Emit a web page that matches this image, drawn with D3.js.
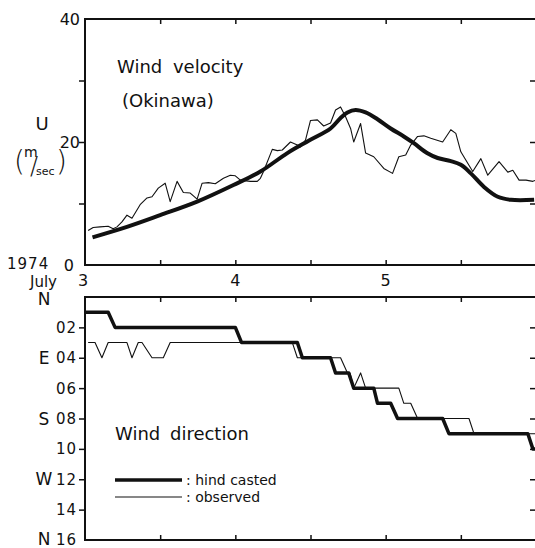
<!DOCTYPE html>
<html>
<head>
<meta charset="utf-8">
<script src="https://cdn.jsdelivr.net/npm/d3@7"></script>
<style>
  html, body { margin: 0; padding: 0; background: #fff; }
  svg { display: block; }
  text { font-family: "DejaVu Sans", sans-serif; fill: #111; }
</style>
</head>
<body>
<div id="chart"></div>
<script>
// ---- Data (hours after July 3, 00:00, 1974) ----
const dayTicks = [0, 24, 48];
const dayLabels = ["3", "4", "5"];
const halfDayTicks = [12, 24, 36, 48, 60];

const speedTicks = [0, 10, 20, 30, 40];
const speedLabels = ["0", "", "20", "", "40"];

// Wind velocity (m/sec) - hindcasted
const hindHours = [1.2, 6.7, 12, 17.9, 23.7, 28, 32.3, 35.7, 39.2, 40.8, 41.9, 43.2, 44.8, 46.7, 48.8, 50.9, 52.5, 54.6, 56.3, 58.4, 60, 61.6, 63.7, 65.9, 68, 71.7];
const hindSpeed = [4.5, 6.2, 8.1, 10.3, 13.0, 15.2, 18.2, 20.2, 22.2, 23.9, 24.8, 25.2, 24.8, 23.7, 22.2, 20.9, 19.8, 18.2, 17.4, 16.9, 16.3, 14.9, 12.7, 11.1, 10.6, 10.6];

// Wind velocity (m/sec) - observed
const obsHours = [0.5, 1.3, 2.4, 3.7, 4.5, 5.1, 5.9, 6.7, 7.5, 8.8, 9.9, 10.7, 11.7, 12.8, 13.6, 14.7, 15.7, 16.8, 17.9, 18.7, 19.7, 20.8, 22.1, 23.2, 24.0, 24.8, 26.4, 27.5, 28.0, 28.5, 29.9, 30.7, 31.5, 32.8, 33.9, 34.4, 35.2, 36.0, 37.1, 38.1, 39.2, 40.0, 40.8, 41.6, 42.4, 42.9, 44.0, 44.8, 46.1, 47.7, 49.1, 50.1, 51.2, 52.0, 53.1, 54.1, 55.2, 57.1, 58.4, 59.2, 60.0, 61.9, 63.2, 64.3, 66.1, 67.5, 68.3, 69.3, 70.4, 71.5, 72.0];
const obsSpeed = [5.6, 6.1, 6.2, 6.3, 5.9, 6.2, 7.0, 8.1, 7.6, 9.8, 10.9, 11.1, 12.5, 13.3, 10.3, 13.6, 11.8, 11.7, 10.7, 13.3, 13.4, 13.2, 14.1, 14.6, 14.5, 13.8, 13.6, 13.6, 14.1, 15.2, 18.8, 18.6, 18.7, 20.0, 19.5, 19.2, 20.3, 23.5, 23.6, 22.6, 23.1, 25.2, 25.7, 24.1, 22.2, 20.0, 23.0, 18.2, 17.6, 15.7, 14.9, 17.6, 17.9, 19.5, 20.9, 21.0, 20.6, 20.0, 22.0, 21.4, 18.4, 15.2, 17.3, 14.6, 16.8, 15.1, 15.4, 13.8, 13.8, 13.6, 13.8];

// Wind direction (16-point compass units) - hindcasted
const hindDirHours = [0, 3.7, 4.8, 24, 25, 33.9, 34.7, 39.2, 40, 42.1, 42.9, 46.1, 46.7, 48.8, 49.9, 57.1, 58.1, 70.7, 71.5, 72];
const hindDir = [1, 1, 2, 2, 3, 3, 4, 4, 5, 5, 6, 6, 7, 7, 8, 8, 9, 9, 10, 10];

// Wind direction - observed
const obsDirHours = [0.5, 1.6, 2.7, 3.7, 6.7, 7.5, 8.5, 9.1, 10.7, 12.5, 13.6, 33.1, 33.9, 40.8, 41.9, 42.3, 42.9, 44.0, 44.8, 50.1, 50.9, 52.0, 53.1, 61.3, 62.1, 72];
const obsDir = [3, 3, 4, 3, 3, 4, 3, 3, 4, 4, 3, 3, 4, 4, 5, 5, 6, 5, 6, 6, 7, 7, 8, 8, 9, 9];

const dirTicks = [0, 2, 4, 6, 8, 10, 12, 14, 16];
const dirLabels = ["", "02", "04", "06", "08", "10", "12", "14", "16"];
const compassTicks = [0, 4, 8, 12, 16];
const compassLabels = ["N", "E", "S", "W", "N"];

const legendLabels = [": hind casted", ": observed"];

// ---- Drawing ----
const W = 535, H = 548;
const svg = d3.select("#chart").append("svg").attr("width", W).attr("height", H);

const x = d3.scaleLinear().domain([0, 72]).range([85, 536]);
const yU = d3.scaleLinear().domain([0, 40]).range([265, 19]);
const yD = d3.scaleLinear().domain([0, 16]).range([297, 540]);

const ink = "#111";

function frame(y0, y1) {
  svg.append("rect")
    .attr("x", x(0)).attr("y", y0)
    .attr("width", x(72) - x(0)).attr("height", y1 - y0)
    .attr("fill", "none").attr("stroke", ink).attr("stroke-width", 2);
}
function styleAxis(g) {
  g.select(".domain").remove();
  g.selectAll(".tick line").attr("stroke", ink).attr("stroke-width", 1.5);
  g.selectAll(".tick text").remove();
}

// Top panel
frame(yU(40), yU(0));
svg.append("g").attr("transform", `translate(0,${yU(0)})`)
  .call(d3.axisBottom(x).tickValues(halfDayTicks).tickSize(-5)).call(styleAxis);
svg.append("g").attr("transform", `translate(0,${yU(40)})`)
  .call(d3.axisTop(x).tickValues(halfDayTicks).tickSize(-5)).call(styleAxis);
svg.append("g").attr("transform", `translate(${x(0)},0)`)
  .call(d3.axisLeft(yU).tickValues([10, 20, 30]).tickSize(6)).call(styleAxis);
svg.append("g").attr("transform", `translate(${x(72)},0)`)
  .call(d3.axisRight(yU).tickValues([10, 20, 30]).tickSize(-6)).call(styleAxis);

speedTicks.forEach((v, i) => {
  if (!speedLabels[i]) return;
  svg.append("text")
    .attr("x", v === 0 ? 74 : 80).attr("y", yU(v)).attr("dy", "0.36em")
    .attr("text-anchor", "end").attr("font-size", 16).text(speedLabels[i]);
});

// U (m/sec) label
svg.append("text").attr("x", 42).attr("y", 130).attr("text-anchor", "middle")
  .attr("font-size", 18).text("U");
svg.append("text").attr("x", 14).attr("y", 171).attr("font-size", 28)
  .attr("font-weight", 300).text("(");
svg.append("text").attr("x", 24).attr("y", 157).attr("font-size", 14).text("m");
svg.append("text").attr("x", 30).attr("y", 174).attr("font-size", 24)
  .attr("font-weight", 300).text("/");
svg.append("text").attr("x", 36).attr("y", 175).attr("font-size", 11).text("sec");
svg.append("text").attr("x", 56).attr("y", 171).attr("font-size", 28)
  .attr("font-weight", 300).text(")");

// Velocity lines
const lineU = d3.line().x(d => x(d[0])).y(d => yU(d[1]));
svg.append("path")
  .datum(obsHours.map((h, i) => [h, obsSpeed[i]]))
  .attr("d", lineU).attr("fill", "none").attr("stroke", ink).attr("stroke-width", 1.1)
  .attr("stroke-linejoin", "round");
svg.append("path")
  .datum(hindHours.map((h, i) => [h, hindSpeed[i]]))
  .attr("d", lineU.curve(d3.curveCatmullRom)).attr("fill", "none").attr("stroke", ink)
  .attr("stroke-width", 4).attr("stroke-linejoin", "round").attr("stroke-linecap", "butt");

svg.append("text").attr("x", 117).attr("y", 73).attr("font-size", 18)
  .attr("word-spacing", 5).text("Wind velocity");
svg.append("text").attr("x", 122).attr("y", 107).attr("font-size", 18).text("(Okinawa)");

// Date labels
svg.append("text").attr("x", 7).attr("y", 269).attr("font-size", 15)
  .attr("letter-spacing", 1).text("1974");
svg.append("text").attr("x", 30).attr("y", 287).attr("font-size", 15).text("July");
dayTicks.forEach((h, i) => {
  svg.append("text").attr("x", x(h) - (i === 0 ? 2 : 0)).attr("y", 286)
    .attr("text-anchor", "middle").attr("font-size", 16).text(dayLabels[i]);
});

// Bottom panel
frame(yD(0), yD(16));
svg.append("g").attr("transform", `translate(0,${yD(16)})`)
  .call(d3.axisBottom(x).tickValues(halfDayTicks).tickSize(-5)).call(styleAxis);
svg.append("g").attr("transform", `translate(0,${yD(0)})`)
  .call(d3.axisTop(x).tickValues(halfDayTicks).tickSize(-5)).call(styleAxis);
svg.append("g").attr("transform", `translate(${x(0)},0)`)
  .call(d3.axisLeft(yD).tickValues([2, 4, 6, 8, 10, 12, 14]).tickSize(6)).call(styleAxis);
svg.append("g").attr("transform", `translate(${x(72)},0)`)
  .call(d3.axisRight(yD).tickValues([2, 4, 6, 8, 10, 12, 14]).tickSize(-6)).call(styleAxis);

dirTicks.forEach((v, i) => {
  if (!dirLabels[i]) return;
  svg.append("text").attr("x", 77).attr("y", yD(v)).attr("dy", i === 8 ? "0.3em" : "0.36em")
    .attr("text-anchor", "end").attr("font-size", 15).attr("letter-spacing", 1)
    .text(dirLabels[i]);
});
compassTicks.forEach((v, i) => {
  svg.append("text").attr("x", 44).attr("y", yD(v))
    .attr("dy", i === 0 ? "0.45em" : (i === 4 ? "0.3em" : "0.36em"))
    .attr("text-anchor", "middle").attr("font-size", 17).text(compassLabels[i]);
});

const lineD = d3.line().x(d => x(d[0])).y(d => yD(d[1]));
svg.append("path")
  .datum(obsDirHours.map((h, i) => [h, obsDir[i]]))
  .attr("d", lineD).attr("fill", "none").attr("stroke", ink).attr("stroke-width", 1.1)
  .attr("stroke-linejoin", "round");
svg.append("path")
  .datum(hindDirHours.map((h, i) => [h, hindDir[i]]))
  .attr("d", lineD).attr("fill", "none").attr("stroke", ink).attr("stroke-width", 3.5)
  .attr("stroke-linejoin", "round");

svg.append("text").attr("x", 115).attr("y", 440).attr("font-size", 18)
  .attr("word-spacing", 4).text("Wind direction");

// Legend
const legendY = [480, 497];
const legendW = [3.5, 1.1];
legendLabels.forEach((lab, i) => {
  svg.append("line").attr("x1", 115).attr("x2", 182)
    .attr("y1", legendY[i]).attr("y2", legendY[i])
    .attr("stroke", ink).attr("stroke-width", legendW[i]);
  svg.append("text").attr("x", 186).attr("y", legendY[i] + 5)
    .attr("font-size", 14).text(lab);
});
</script>
</body>
</html>
